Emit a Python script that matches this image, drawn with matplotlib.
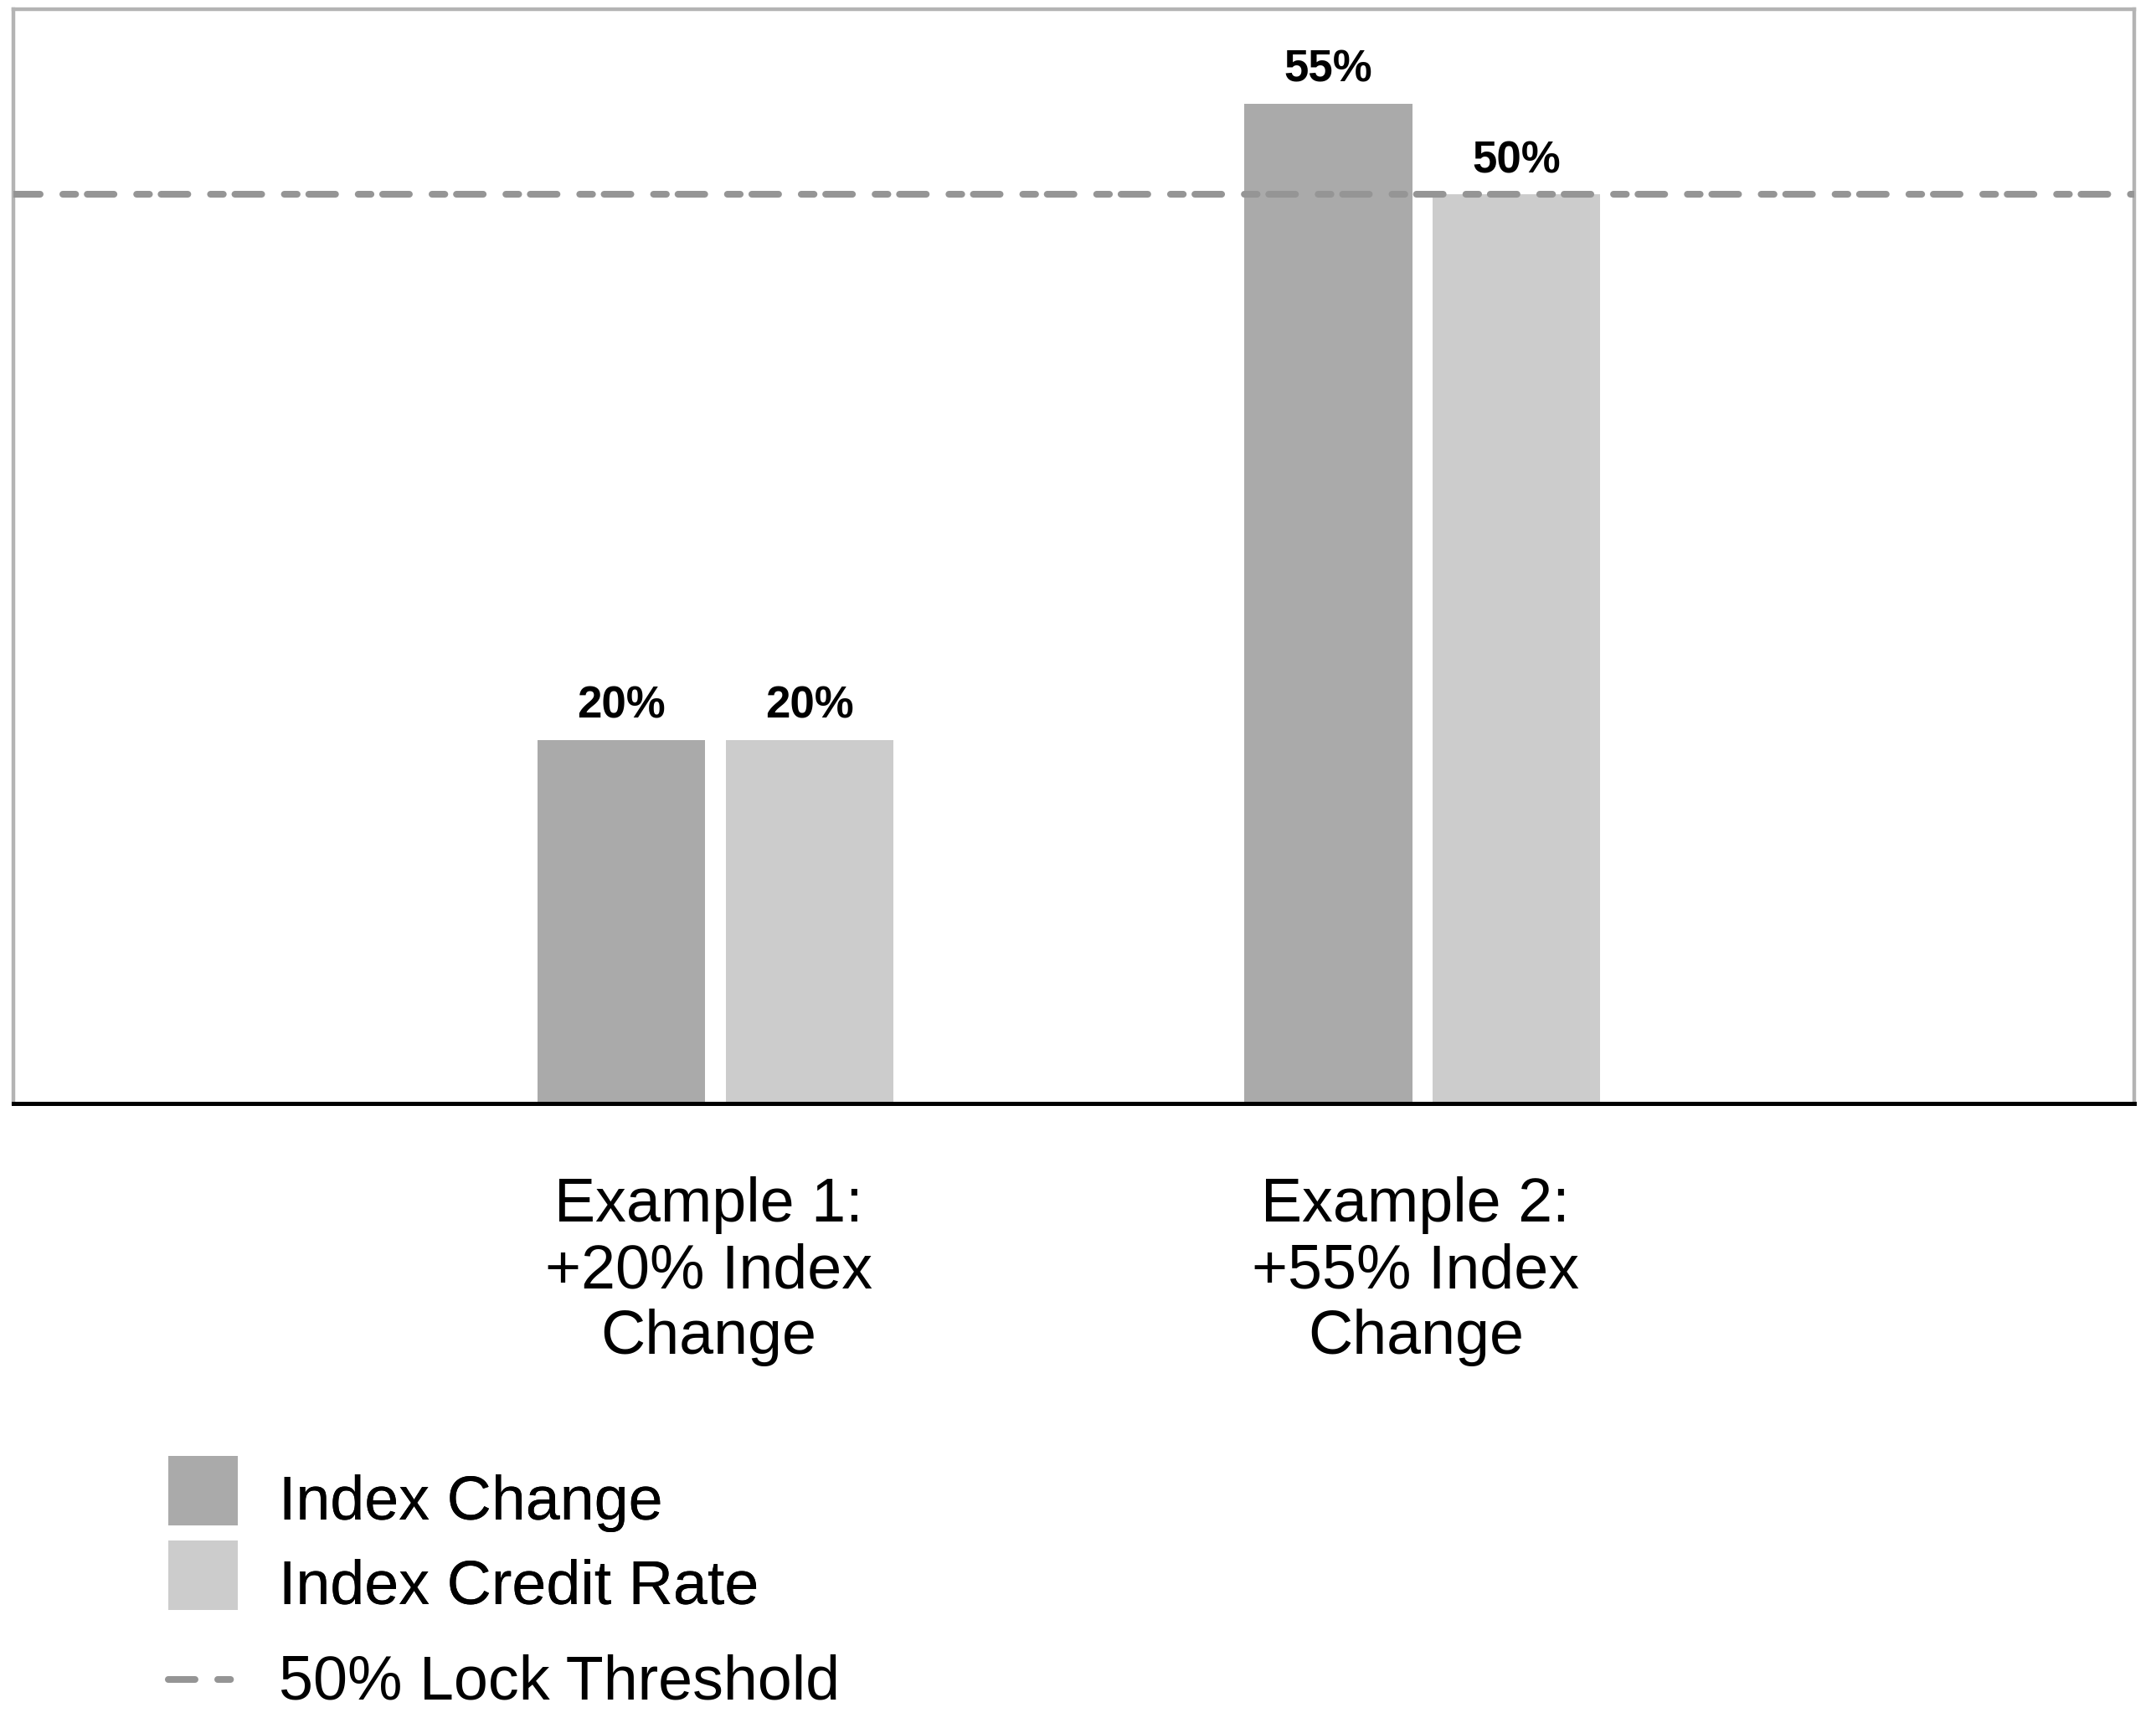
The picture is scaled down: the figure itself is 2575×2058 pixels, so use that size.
import matplotlib as mpl
mpl.use('Agg')
import matplotlib.pyplot as plt
import numpy as np
from matplotlib.patches import Patch, Rectangle
from matplotlib.lines import Line2D
from matplotlib.legend_handler import HandlerPatch
from matplotlib.transforms import ScaledTranslation

# data
categories = ['Example 1:\n+20% Index\nChange', 'Example 2:\n+55% Index\nChange']
index_change = [20, 55]
credit_rate = [20, 50]
lock_threshold = 50
series_names = ['Index Change', 'Index Credit Rate']
threshold_name = '50% Lock Threshold'

dark = '#aaaaaa'
light = '#cccccc'
dash_col = '#959595'
frame_col = '#b4b4b4'

plt.rcParams['font.family'] = ['Liberation Sans', 'DejaVu Sans']
plt.rcParams['lines.scale_dashes'] = False

W, H = 2575, 2058
fig = plt.figure(figsize=(W / 100, H / 100), dpi=100)
ax = fig.add_axes([16 / W, 1 - 1318 / H, (2549 - 16) / W, (1318 - 11) / H])

x = np.arange(len(categories))
bw = 0.237
off = 0.133
b1 = ax.bar(x - off, index_change, bw, color=dark, zorder=2)
b2 = ax.bar(x + off, credit_rate, bw, color=light, zorder=2)

# long dash, big gap, short dash, small gap (round caps)
dash = (0, (23, 19.5, 11, 10))
ax.axhline(lock_threshold, color=dash_col, lw=5.8, ls=dash,
           dash_capstyle='round', zorder=3)

for cont, vals in ((b1, index_change), (b2, credit_rate)):
    ax.bar_label(cont, labels=[str(v) + '%' for v in vals], padding=11,
                 fontsize=38, fontweight='bold', color='black')

ax.set_xlim(-0.993, 2.007)
ax.set_ylim(0, 60.2)
ax.set_yticks([])
ax.set_xticks(x)
ax.set_xticklabels(categories, fontsize=53, linespacing=1.18)
ax.tick_params(axis='x', length=0, pad=63)
# labels sit a little left of the bar pairs in the original
for lbl in ax.get_xticklabels():
    lbl.set_transform(lbl.get_transform() + ScaledTranslation(-0.08, 0, fig.dpi_scale_trans))

for s in ('left', 'top', 'right'):
    ax.spines[s].set_color(frame_col)
    ax.spines[s].set_linewidth(3.2)
ax.spines['bottom'].set_color('black')
ax.spines['bottom'].set_linewidth(3.6)
ax.spines['bottom'].set_zorder(4)


def raised_rect(legend, orig_handle, xdescent, ydescent, width, height, fontsize):
    return Rectangle((-xdescent, -ydescent + 7), width, height)


fs = 53
h1 = [Patch(facecolor=dark, edgecolor='none'), Patch(facecolor=light, edgecolor='none')]
leg1 = fig.legend(h1, series_names, loc='upper left',
                  bbox_to_anchor=(201 / W, 1 - 1749 / H), frameon=False,
                  fontsize=fs, handlelength=83 / 73.5, handleheight=1.36,
                  handletextpad=0.66, labelspacing=0.24, borderpad=0,
                  borderaxespad=0,
                  handler_map={Patch: HandlerPatch(patch_func=raised_rect)})
h2 = [Line2D([0], [0], color=dash_col, lw=5.8, ls=dash, dash_capstyle='round')]
leg2 = fig.legend(h2, [threshold_name], loc='upper left',
                  bbox_to_anchor=(201 / W, 1 - 1976 / H), frameon=False,
                  fontsize=fs, handlelength=83 / 73.5, handleheight=0.5,
                  handletextpad=0.66, borderpad=0, borderaxespad=0)
fig.add_artist(leg1)

fig.savefig('out.png', dpi=100)
